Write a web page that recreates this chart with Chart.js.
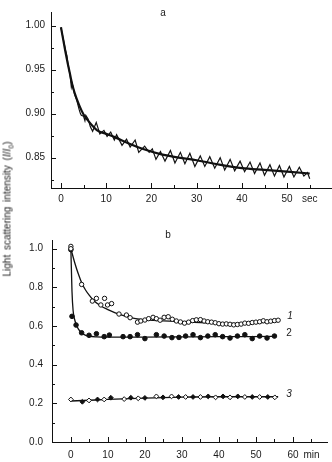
<!DOCTYPE html>
<html>
<head>
<meta charset="utf-8">
<script src="https://cdn.jsdelivr.net/npm/chart.js@4.4.1/dist/chart.umd.min.js"></script>
<style>
  body { margin: 0; background: #fff; }
  #wrap { position: relative; width: 332px; height: 462px; font-family: "Liberation Sans", Arial, sans-serif; color: #1a1a1a; }
  canvas { position: absolute; left: 0; }
  .lbl { position: absolute; font-size: 10px; line-height: 10px; transform: translate(-50%, -50%); white-space: nowrap; }
  #ytitle { position: absolute; left: 8px; top: 209px; font-size: 10px; word-spacing: 2px; white-space: nowrap; transform: translate(-50%, -50%) rotate(-90deg); }
  #ytitle sub { font-size: 7px; }
</style>
</head>
<body>
<div id="wrap">
  <canvas id="chartA" width="332" height="205" style="top:0"></canvas>
  <canvas id="chartB" width="332" height="237" style="top:225px"></canvas>
  <div id="ytitle">Light scattering intensity (<i>I</i>/<i>I</i><sub>0</sub>)</div>
  <div class="lbl" style="left:163px;top:13px">a</div>
  <div class="lbl" style="left:168px;top:235px">b</div>
  <div class="lbl" style="left:290px;top:316px"><i>1</i></div>
  <div class="lbl" style="left:289px;top:333px">2</div>
  <div class="lbl" style="left:289px;top:394px"><i>3</i></div>
</div>
<script>
// panel a: raw trace (sec) and fitted curve
const traceT = [0, 0.5, 1, 1.3, 1.5, 2, 2.3, 2.5, 3, 3.5, 4, 4.3, 4.5, 5, 5.3, 5.5, 6, 6.5, 7, 7.8, 8.6, 9.5, 10.2, 11,
  11.8, 12.3, 13.5, 14.5, 15.3, 16.4, 17.2, 18.5, 19.5, 20.2, 21, 22, 23, 24.2, 25.2, 26.4, 27.4, 28.5, 29.6, 30.8,
  31.8, 32.9, 34, 35.2, 36.2, 37.4, 38.4, 39.6, 40.6, 41.8, 42.8, 44, 45, 46.2, 47.2, 48.3, 49.3, 50.5, 51.5, 52.7,
  53.7, 54.5, 55];
const traceI = [0.998, 0.985, 0.972, 0.966, 0.958, 0.944, 0.930, 0.934, 0.922, 0.915, 0.905, 0.900, 0.898, 0.897, 0.892, 0.898, 0.894, 0.885, 0.880, 0.890, 0.877, 0.881, 0.874, 0.879,
  0.870, 0.876, 0.864, 0.871, 0.862, 0.870, 0.856, 0.863, 0.856, 0.860, 0.848, 0.857, 0.846, 0.858, 0.844, 0.856, 0.843, 0.855, 0.840, 0.852,
  0.840, 0.851, 0.838, 0.850, 0.836, 0.848, 0.835, 0.846, 0.834, 0.845, 0.832, 0.844, 0.830, 0.842, 0.829, 0.841, 0.828, 0.840, 0.828, 0.839,
  0.829, 0.833, 0.826];
const fitAT = [0, 0.5, 1, 1.5, 2, 2.5, 3, 4, 5, 6, 7, 8, 10, 12, 15, 18, 22, 26, 30, 35, 40, 45, 50, 55];
const fitAI = [0.998, 0.984, 0.970, 0.957, 0.945, 0.933, 0.924, 0.910, 0.899, 0.892, 0.886, 0.881, 0.877, 0.873, 0.866, 0.860, 0.854, 0.850, 0.847, 0.842, 0.838, 0.836, 0.834, 0.832];

// panel b: three series (min) and their fitted curves
const s1T = [0, 0, 2.9, 5.8, 6.9, 8.1, 9.1, 9.9, 11.0, 13, 15, 16, 18, 18.9, 20, 21, 22.2, 23.1, 24.1, 25.2,
  26.3, 27.4, 28.5, 29.6, 30.7, 31.8, 32.9, 33.9, 35, 36, 37, 38, 39, 40, 41, 42, 43, 44, 45, 46,
  47, 48, 49, 50, 51, 52, 53, 54, 55, 56];
const s1I = [1.012, 1.0, 0.815, 0.729, 0.743, 0.709, 0.743, 0.709, 0.716, 0.662, 0.657, 0.643, 0.620, 0.626, 0.631, 0.638, 0.645, 0.638, 0.630, 0.645,
  0.648, 0.635, 0.626, 0.621, 0.615, 0.620, 0.628, 0.632, 0.633, 0.626, 0.622, 0.620, 0.617, 0.612, 0.610, 0.611, 0.609, 0.606, 0.608, 0.610,
  0.615, 0.614, 0.618, 0.620, 0.622, 0.627, 0.622, 0.625, 0.628, 0.630];
const s2T = [0, 0.3, 1.4, 2.9, 4.9, 6.9, 9.0, 10.4, 14.1, 16, 18, 20, 23.1, 25.2, 27.3, 29.2, 31, 33, 35, 37, 39, 41, 43, 45, 47, 49, 51, 53, 55];
const s2I = [0.995, 0.650, 0.605, 0.565, 0.552, 0.560, 0.545, 0.553, 0.545, 0.545, 0.555, 0.535, 0.555, 0.548, 0.540, 0.541, 0.548, 0.555, 0.540, 0.548, 0.555, 0.545, 0.538, 0.548, 0.555, 0.535, 0.548, 0.538, 0.548];
const s3T = [0, 3.1, 4.9, 7.2, 9, 10.8, 14.4, 16.2, 18.2, 20, 23.1, 24.9, 27.2, 29.1, 31, 33, 35, 37.1, 39.1, 41.1, 43, 45.1, 47, 49, 51, 53.2, 55.1];
const s3I = [0.220, 0.208, 0.215, 0.220, 0.220, 0.229, 0.222, 0.229, 0.226, 0.228, 0.236, 0.231, 0.236, 0.233, 0.233, 0.233, 0.233, 0.236, 0.231, 0.236, 0.231, 0.236, 0.233, 0.233, 0.233, 0.233, 0.231];
const fit1T = [0, 1, 2, 3, 4, 5, 6, 8, 10, 12, 14, 16, 18, 20, 25, 30, 35, 40, 45, 50, 55, 56];
const fit1I = [1.0, 0.93, 0.87, 0.82, 0.785, 0.758, 0.735, 0.705, 0.685, 0.668, 0.655, 0.645, 0.637, 0.632, 0.627, 0.622, 0.618, 0.615, 0.614, 0.617, 0.622, 0.623];
const fit2T = [0, 0.3, 0.6, 1, 1.5, 2, 3, 4, 5, 7, 10, 20, 30, 40, 55];
const fit2I = [1.0, 0.78, 0.68, 0.635, 0.605, 0.585, 0.562, 0.552, 0.547, 0.544, 0.543, 0.543, 0.544, 0.545, 0.546];
const fit3T = [0, 5, 10, 20, 30, 40, 56];
const fit3I = [0.212, 0.216, 0.220, 0.227, 0.232, 0.234, 0.234];

// tick positions
const aXTicks = [0, 5, 10, 15, 20, 25, 30, 35, 40, 45, 50, 55];
const aYTicks = [0.825, 0.85, 0.875, 0.9, 0.925, 0.95, 0.975, 1.0];
const bXTicks = [0, 5, 10, 15, 20, 25, 30, 35, 40, 45, 50, 55, 60, 65];
const bYTicks = [0, 0.1, 0.2, 0.3, 0.4, 0.5, 0.6, 0.7, 0.8, 0.9, 1.0];

const INK = '#111';
const pts = (xs, ys) => xs.map((x, i) => ({ x: x, y: ys[i] }));
const near = (v, step) => Math.abs(v / step - Math.round(v / step)) < 1e-6;

// draw tick marks pointing into the plot
const inwardTicks = {
  id: 'inwardTicks',
  afterDraw(chart, args, opts) {
    const ctx = chart.ctx, a = chart.chartArea;
    const xs = chart.scales.x, ys = chart.scales.y;
    ctx.save();
    ctx.strokeStyle = INK;
    ctx.lineWidth = 1;
    ctx.beginPath();
    xs.ticks.forEach(t => {
      const px = Math.round(xs.getPixelForValue(t.value)) + 0.5;
      const len = near(t.value, opts.xMajor) ? 5 : 3;
      ctx.moveTo(px, a.bottom);
      ctx.lineTo(px, a.bottom - len);
    });
    ys.ticks.forEach(t => {
      const py = Math.round(ys.getPixelForValue(t.value)) + 0.5;
      const len = near(t.value, opts.yMajor) ? 5 : 3;
      ctx.moveTo(a.left, py);
      ctx.lineTo(a.left + len, py);
    });
    ctx.stroke();
    ctx.restore();
  }
};

function axis(min, max, tickVals, labelFn) {
  return {
    type: 'linear',
    min: min,
    max: max,
    border: { display: true, color: INK, width: 1 },
    grid: { display: true, drawOnChartArea: false, drawTicks: false },
    afterBuildTicks: s => { s.ticks = tickVals.map(v => ({ value: v })); },
    ticks: {
      autoSkip: false,
      maxRotation: 0,
      color: '#1a1a1a',
      font: { family: '"Liberation Sans", Arial, sans-serif', size: 10 },
      callback: labelFn
    }
  };
}

const common = {
  responsive: false,
  animation: false,
  events: [],
  plugins: { legend: { display: false }, tooltip: { enabled: false } }
};

const xA = axis(-2.2, 59.7, aXTicks, v => v === 55 ? 'sec' : (near(v, 10) ? String(v) : ''));
xA.ticks.padding = 5;
xA.afterFit = s => { s.height = 17; };
const yA = axis(0.8155, 1.0154, aYTicks, v => near(v, 0.05) ? v.toFixed(2) : '');
yA.ticks.padding = 6;
yA.afterFit = s => { s.width = 51; };

new Chart(document.getElementById('chartA'), {
  type: 'scatter',
  data: {
    datasets: [
      { data: pts(traceT, traceI), showLine: true, borderColor: INK, borderWidth: 1.2, pointRadius: 0, tension: 0 },
      { data: pts(fitAT, fitAI), showLine: true, borderColor: INK, borderWidth: 2.2, pointRadius: 0, tension: 0.4, cubicInterpolationMode: 'monotone' }
    ]
  },
  options: Object.assign({}, common, {
    layout: { padding: { top: 5, right: 1, left: 0, bottom: 0 } },
    scales: { x: xA, y: yA },
    plugins: Object.assign({}, common.plugins, { inwardTicks: { xMajor: 10, yMajor: 0.05 } })
  }),
  plugins: [inwardTicks]
});

const xB = axis(-5.1, 69.2, bXTicks, v => v === 65 ? 'min' : (near(v, 10) ? String(v) : ''));
xB.ticks.padding = 7;
xB.afterFit = s => { s.height = 20; };
const yB = axis(0, 1.045, bYTicks, v => near(v, 0.2) ? v.toFixed(1) : '');
yB.ticks.padding = 9;
yB.afterFit = s => { s.width = 52; };

const marker = (style, fill, r) => ({
  showLine: false, pointStyle: style, pointRadius: r, borderWidth: 1,
  pointBorderColor: INK, pointBackgroundColor: fill
});
const fitLine = { showLine: true, borderColor: INK, borderWidth: 1.3, pointRadius: 0, tension: 0.4, cubicInterpolationMode: 'monotone' };

new Chart(document.getElementById('chartB'), {
  type: 'scatter',
  data: {
    datasets: [
      Object.assign({ data: pts(s1T, s1I) }, marker('circle', '#fff', 2.2)),
      Object.assign({ data: pts(s2T, s2I) }, marker('circle', INK, 2.3)),
      Object.assign({ data: pts(s3T, s3I) }, marker('rectRot', c => c.dataIndex % 2 ? INK : '#fff', 2.4)),
      Object.assign({ data: pts(fit1T, fit1I) }, fitLine),
      Object.assign({ data: pts(fit2T, fit2I) }, fitLine),
      Object.assign({ data: pts(fit3T, fit3I) }, fitLine)
    ]
  },
  options: Object.assign({}, common, {
    layout: { padding: { top: 10, right: 3, left: 0, bottom: 0 } },
    scales: { x: xB, y: yB },
    plugins: Object.assign({}, common.plugins, { inwardTicks: { xMajor: 10, yMajor: 0.2 } })
  }),
  plugins: [inwardTicks]
});
</script>
</body>
</html>
